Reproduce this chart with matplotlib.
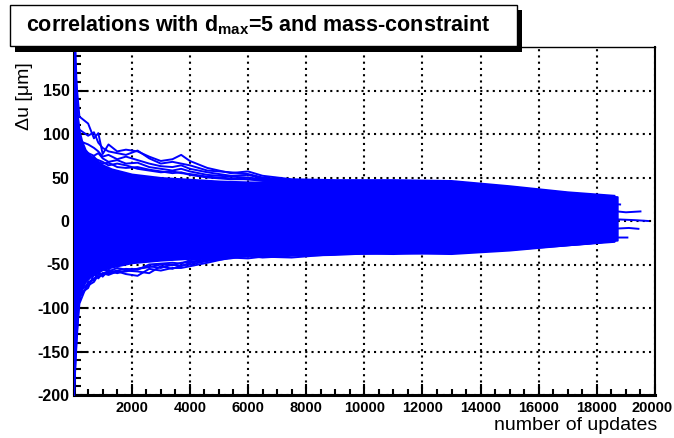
import matplotlib
matplotlib.use("Agg")
import matplotlib.pyplot as plt
import matplotlib.transforms as mtransforms
from matplotlib.patches import Rectangle
from matplotlib.ticker import MultipleLocator

plt.rcParams['font.family'] = ['Liberation Sans', 'DejaVu Sans']
plt.rcParams['mathtext.fontset'] = 'custom'
plt.rcParams['mathtext.rm'] = 'Liberation Sans'
plt.rcParams['mathtext.bf'] = 'Liberation Sans:bold'
plt.rcParams['axes.unicode_minus'] = False

# dense core of the band (solid blue region)
core_x = [0, 50, 110, 160, 280, 400, 600, 900, 1300, 2000, 3000, 4000, 5000,
          6000, 8000, 10000, 12000, 13500, 15500, 17500, 18700]
core_hi = [200, 195, 130, 108, 92, 82, 74, 66, 60, 54, 50, 48, 46,
           45, 44, 44, 44, 42, 37, 31, 28]
core_lo = [-200, -160, -107, -92, -78, -70, -63, -57, -53, -48, -45, -43, -40,
           -38, -36, -34, -35, -34, -30, -26, -22]

# outer traces sticking out of the band
grid_x = [0, 200, 500, 700, 850, 1000, 1200, 1500, 1800, 2200, 2600, 3000, 3400,
          3700, 4000, 4600, 5400, 6000, 6500, 7500, 9000, 11000, 13000, 15000, 17000, 18600]
up_a = [195, 120, 112, 95, 101, 77, 88, 80, 82, 80, 74, 69, 71, 76, 69, 61, 55, 57, 52, 48, 47, 47, 46, 40, 33, 29]
up_b = [160, 105, 98, 102, 90, 84, 80, 78, 76, 81, 72, 66, 68, 66, 64, 58, 56, 54, 50, 47, 46, 46, 45, 39, 32, 28]
up_c = [130, 92, 88, 84, 80, 74, 76, 71, 74, 70, 66, 63, 62, 64, 60, 56, 52, 53, 49, 46, 45, 45, 44, 38, 31, 27]
up_d = [110, 85, 78, 75, 78, 72, 68, 70, 66, 67, 62, 60, 58, 60, 57, 53, 51, 50, 48, 45, 44, 44, 43, 37, 31, 26]
up_e = [90, 80, 76, 72, 70, 68, 64, 66, 64, 60, 58, 56, 57, 55, 54, 51, 49, 48, 47, 46, 45, 45, 44, 39, 32, 28]
up_f = [85, 78, 70, 74, 68, 66, 67, 62, 61, 62, 59, 57, 55, 56, 53, 50, 48, 48, 46, 45, 44, 45, 43, 38, 32, 27]
lo_a = [-200, -84, -77, -61, -66, -60, -62, -58, -61, -63, -55, -57, -54, -54, -52, -48, -42, -43, -41, -42, -38, -37, -38, -34, -28, -24]
lo_b = [-170, -95, -70, -68, -58, -64, -56, -60, -57, -58, -60, -52, -55, -51, -50, -46, -43, -40, -42, -40, -39, -36, -37, -33, -28, -23]
lo_c = [-140, -78, -66, -62, -60, -56, -58, -54, -56, -55, -52, -54, -50, -52, -48, -45, -41, -41, -39, -39, -37, -38, -36, -33, -27, -23]
lo_d = [-110, -82, -72, -66, -64, -62, -60, -59, -58, -55, -53, -50, -51, -48, -47, -44, -42, -39, -40, -38, -36, -35, -36, -32, -27, -22]
lo_e = [-100, -88, -74, -70, -62, -60, -59, -57, -55, -56, -50, -49, -48, -49, -45, -43, -40, -40, -38, -37, -35, -36, -35, -31, -26, -22]

# the few traces running past the end of the band
tail1_x = [17500, 18400, 19000, 19500]
tail1_y = [14, 12, 10, 11]
tail2_x = [17500, 18600, 19300, 19770]
tail2_y = [3, 2, 1, 0]
tail3_x = [17500, 18500, 19100, 19430]
tail3_y = [-8, -9, -8, -9]
tail4_x = [17500, 18400, 19050]
tail4_y = [-18, -19, -19]
tail5_x = [17500, 18300, 18800]
tail5_y = [20, 20, 19]

title = r"correlations with d$_{\mathbf{max}}$=5 and mass-constraint"
xticks = [2000, 4000, 6000, 8000, 10000, 12000, 14000, 16000, 18000, 20000]
yticks = [-200, -150, -100, -50, 0, 50, 100, 150]

W, H = 674, 438
fig = plt.figure(figsize=(W / 100, H / 100), dpi=100)
ax = fig.add_axes([73.6 / W, 1 - 395 / H, (655 - 73.6) / W, (395 - 47) / H])

blue = (0, 0, 1)
ax.fill_between(core_x, core_lo, core_hi, color=blue, lw=1.4, zorder=3)
for tr in [up_a, up_b, up_c, up_d, up_e, up_f, lo_a, lo_b, lo_c, lo_d, lo_e]:
    ax.plot(grid_x, tr, color=blue, lw=1.4, zorder=3)
for tx, ty in [(tail1_x, tail1_y), (tail2_x, tail2_y), (tail3_x, tail3_y),
               (tail4_x, tail4_y), (tail5_x, tail5_y)]:
    ax.plot(tx, ty, color=blue, lw=1.4, zorder=3)

ax.set_xlim(0, 20000)
ax.set_ylim(-200, 200)
ax.set_xticks(xticks)
ax.set_yticks(yticks)
ax.xaxis.set_minor_locator(MultipleLocator(500))
ax.yaxis.set_minor_locator(MultipleLocator(10))
ax.grid(True, which='major', color='black', linestyle=(0, (1, 2)), lw=1.5)
ax.set_axisbelow(True)

ax.tick_params(which='both', direction='in', top=False, right=False, width=1.5)
ax.tick_params(axis='y', which='major', length=10, pad=3, labelsize=11.5)
ax.tick_params(axis='y', which='minor', length=5)
ax.tick_params(axis='x', which='major', length=8, pad=4, labelsize=10.5)
ax.tick_params(axis='x', which='minor', length=4)
for lab in ax.get_xticklabels() + ax.get_yticklabels():
    lab.set_fontweight('bold')
# keep the last x label inside the picture
last = ax.get_xticklabels()[-1]
last.set_transform(last.get_transform() +
                   mtransforms.ScaledTranslation(-3 / 100, 0, fig.dpi_scale_trans))

ax.spines['bottom'].set_linewidth(2.2)
ax.spines['left'].set_linewidth(2.2)
ax.spines['right'].set_linewidth(1.5)
ax.spines['top'].set_linewidth(1.0)

fig.text(657 / W, 1 - 426 / H, "number of updates", ha='right', va='center', fontsize=14)
fig.text(25 / W, 1 - 62 / H, "Δu [μm]", rotation=90, ha='center', va='top', fontsize=14)

# title box with ROOT-like shadow
fig.patches.append(Rectangle((15 / W, 1 - 52 / H), 507 / W, 42 / H, transform=fig.transFigure,
                             facecolor='black', edgecolor='none', zorder=5))
fig.patches.append(Rectangle((10 / W, 1 - 46 / H), 507 / W, 41 / H, transform=fig.transFigure,
                             facecolor='white', edgecolor='black', lw=1.0, zorder=6))
fig.text(258 / W, 1 - 25.5 / H, title, ha='center', va='center', fontsize=15.5,
         fontweight='bold', zorder=7)

fig.savefig("out.png", dpi=100)
